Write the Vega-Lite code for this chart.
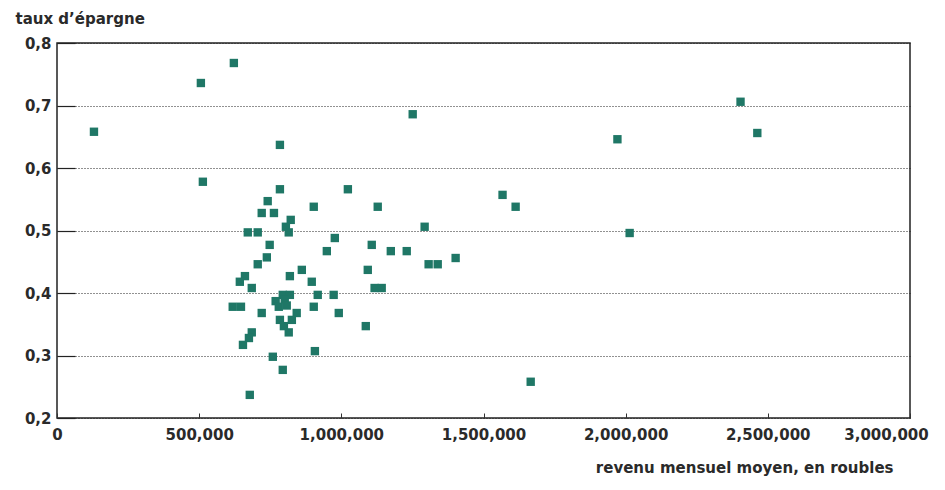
{
  "$schema": "https://vega.github.io/schema/vega-lite/v6.json",
  "autosize": "none",
  "width": 853,
  "height": 375,
  "padding": {"left": 57, "top": 43, "right": 35, "bottom": 72},
  "background": "white",
  "config": {
    "view": {"stroke": "#222", "strokeWidth": 1.5},
    "font": "DejaVu Sans"
  },
  "data": {
    "values": [
      {"revenu": 130000, "taux": 0.658},
      {"revenu": 506000, "taux": 0.736},
      {"revenu": 622000, "taux": 0.768},
      {"revenu": 513000, "taux": 0.578},
      {"revenu": 784000, "taux": 0.637},
      {"revenu": 1251000, "taux": 0.686},
      {"revenu": 1971000, "taux": 0.646},
      {"revenu": 2404000, "taux": 0.706},
      {"revenu": 2463000, "taux": 0.656},
      {"revenu": 2014000, "taux": 0.496},
      {"revenu": 1666000, "taux": 0.258},
      {"revenu": 678000, "taux": 0.237},
      {"revenu": 1567000, "taux": 0.557},
      {"revenu": 1613000, "taux": 0.538},
      {"revenu": 784000, "taux": 0.566},
      {"revenu": 1023000, "taux": 0.566},
      {"revenu": 741000, "taux": 0.547},
      {"revenu": 903000, "taux": 0.538},
      {"revenu": 1128000, "taux": 0.538},
      {"revenu": 720000, "taux": 0.528},
      {"revenu": 763000, "taux": 0.528},
      {"revenu": 822000, "taux": 0.517},
      {"revenu": 805000, "taux": 0.506},
      {"revenu": 815000, "taux": 0.497},
      {"revenu": 671000, "taux": 0.497},
      {"revenu": 706000, "taux": 0.497},
      {"revenu": 977000, "taux": 0.488},
      {"revenu": 1293000, "taux": 0.506},
      {"revenu": 748000, "taux": 0.477},
      {"revenu": 949000, "taux": 0.467},
      {"revenu": 1107000, "taux": 0.477},
      {"revenu": 1174000, "taux": 0.467},
      {"revenu": 1230000, "taux": 0.467},
      {"revenu": 738000, "taux": 0.457},
      {"revenu": 706000, "taux": 0.446},
      {"revenu": 861000, "taux": 0.437},
      {"revenu": 1093000, "taux": 0.437},
      {"revenu": 819000, "taux": 0.427},
      {"revenu": 661000, "taux": 0.427},
      {"revenu": 643000, "taux": 0.418},
      {"revenu": 896000, "taux": 0.418},
      {"revenu": 685000, "taux": 0.408},
      {"revenu": 1117000, "taux": 0.408},
      {"revenu": 1142000, "taux": 0.408},
      {"revenu": 794000, "taux": 0.397},
      {"revenu": 819000, "taux": 0.397},
      {"revenu": 917000, "taux": 0.397},
      {"revenu": 973000, "taux": 0.397},
      {"revenu": 769000, "taux": 0.387},
      {"revenu": 801000, "taux": 0.39},
      {"revenu": 780000, "taux": 0.378},
      {"revenu": 808000, "taux": 0.38},
      {"revenu": 618000, "taux": 0.378},
      {"revenu": 647000, "taux": 0.378},
      {"revenu": 903000, "taux": 0.378},
      {"revenu": 720000, "taux": 0.368},
      {"revenu": 843000, "taux": 0.368},
      {"revenu": 991000, "taux": 0.368},
      {"revenu": 784000, "taux": 0.357},
      {"revenu": 826000, "taux": 0.357},
      {"revenu": 798000, "taux": 0.347},
      {"revenu": 1086000, "taux": 0.347},
      {"revenu": 815000, "taux": 0.337},
      {"revenu": 685000, "taux": 0.337},
      {"revenu": 675000, "taux": 0.328},
      {"revenu": 654000, "taux": 0.317},
      {"revenu": 907000, "taux": 0.307},
      {"revenu": 759000, "taux": 0.298},
      {"revenu": 794000, "taux": 0.277},
      {"revenu": 1307000, "taux": 0.446},
      {"revenu": 1339000, "taux": 0.446},
      {"revenu": 1402000, "taux": 0.456}
    ]
  },
  "mark": {"type": "point", "shape": "square", "filled": true, "size": 70, "color": "#1f7766", "opacity": 1},
  "encoding": {
    "x": {
      "field": "revenu",
      "type": "quantitative",
      "scale": {"domain": [0, 3000000], "nice": false},
      "axis": {
        "values": [0, 500000, 1000000, 1500000, 2000000, 2500000, 3000000],
        "labelExpr": "format(datum.value, ',d')",
        "grid": false,
        "domain": false,
        "tickSize": -5,
        "tickColor": "#333",
        "labelPadding": 14,
        "labelFont": "DejaVu Sans",
        "labelFontSize": 15,
        "labelFontWeight": "bold",
        "labelColor": "#2a2a2a",
        "labelOverlap": false,
        "labelBound": false,
        "labelFlush": false,
        "labelOffset": {"condition": {"test": "datum.value == 3000000", "value": -24}, "value": 0},
        "title": "revenu mensuel moyen, en roubles",
        "titleFont": "DejaVu Sans",
        "titleFontSize": 15,
        "titleFontWeight": "bold",
        "titleColor": "#2a2a2a",
        "titleAnchor": "end",
        "titleAlign": "right",
        "titleBaseline": "alphabetic",
        "titleX": 836,
        "titleY": 54
      }
    },
    "y": {
      "field": "taux",
      "type": "quantitative",
      "scale": {"domain": [0.2, 0.8], "nice": false, "zero": false},
      "axis": {
        "values": [0.2, 0.3, 0.4, 0.5, 0.6, 0.7, 0.8],
        "labelExpr": "replace(format(datum.value, '.1f'), '.', ',')",
        "grid": true,
        "gridColor": "#222",
        "gridDash": [1, 2],
        "gridWidth": 1,
        "domain": false,
        "tickSize": -18,
        "tickColor": "#222",
        "tickWidth": 1.2,
        "labelPadding": 24,
        "labelFont": "DejaVu Sans",
        "labelFontSize": 15,
        "labelFontWeight": "bold",
        "labelColor": "#2a2a2a",
        "labelOverlap": false,
        "labelBound": false,
        "labelFlush": false,
        "title": "taux d’épargne",
        "titleFont": "DejaVu Sans",
        "titleFontSize": 15,
        "titleFontWeight": "bold",
        "titleColor": "#2a2a2a",
        "titleAngle": 0,
        "titleAlign": "left",
        "titleBaseline": "alphabetic",
        "titleX": -42,
        "titleY": -20
      }
    }
  }
}
